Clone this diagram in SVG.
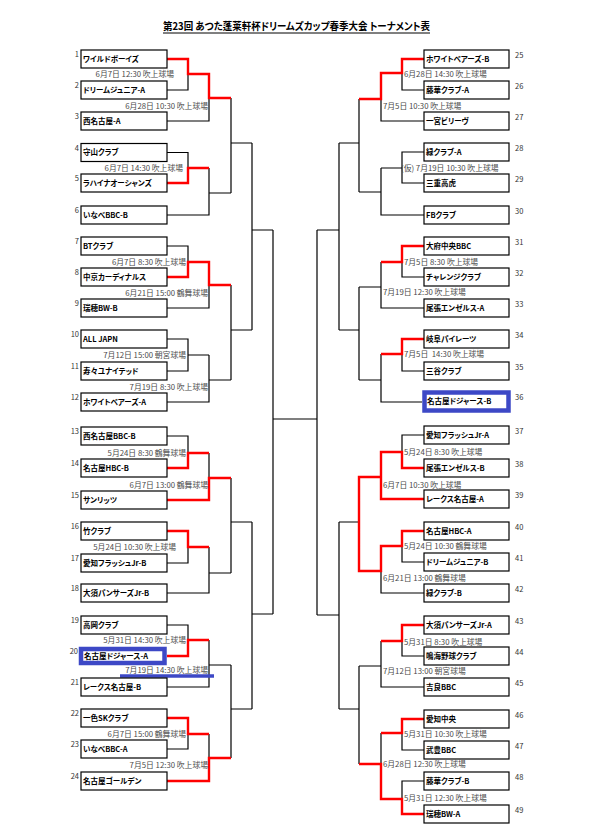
<svg xmlns="http://www.w3.org/2000/svg" width="592" height="835" viewBox="0 0 592 835">
<style>
text{font-family:"Noto Sans CJK JP","Noto Sans",sans-serif;font-feature-settings:"palt"}
.t{font-size:7.5px;font-weight:bold;fill:#000}
.n{font-size:7.5px;fill:#333}
.d{font-size:7.8px;fill:#4a4a4a;font-feature-settings:normal}
.de{font-size:7.8px;fill:#4a4a4a;text-anchor:end;font-feature-settings:normal}
.nl{font-size:7.5px;fill:#333;text-anchor:end}
.box{fill:#fff;stroke:#000;stroke-width:1.2}
.bl{fill:none;stroke:#000;stroke-width:1.2}
.rd{fill:none;stroke:#f00;stroke-width:2.4}
.blue{fill:none;stroke:#3d48c6;stroke-width:4.5}
</style>
<rect width="592" height="835" fill="#fff"/>
<text x="163" y="30" font-size="10.5" font-weight="bold" textLength="267" lengthAdjust="spacingAndGlyphs">第23回 あつた蓬莱軒杯ドリームズカップ春季大会 トーナメント表</text>
<line x1="163" y1="33" x2="430" y2="33" stroke="#000" stroke-width="1"/>

<g id="connectors">
<path class="bl" d="M167,90H188V74M167,121H209V98M231,98V193M167,152.5H188V168M209,168V215H167M209,193H231M231,143H252M167,246H188V262M167,308H209V285M231,285V380M167,339H188V371H167M188,355H209M209,355V402H167M209,380H231M231,330H252M252,143V330M252,230H273M167,436H188V453M209,453V478M231,478V573M167,563H188V547M209,547V593H167M209,573H231M231,522H252M252,522V709M252,614H273M167,625H188V640M209,640V687H167M209,665H231M231,665V758M167,749H188V734M209,734V758M231,709H252M273,230V614M273,419H317M317,230V615"/>
<path class="bl" d="M424,90H402V73M424,121H381V99M359,99V192M424,152H402V183H424M402,168H381M381,168V215H424M381,192H359M359,143H339M339,143V330M339,230H317M424,277H402V262M381,262V308H424M381,287H359M359,287V380M424,371H402V354M381,354V402H422M381,380H359M359,330H339M424,435H402V452M359,522H339M424,562H402V546M381,571V593H424M339,522V709M339,615H317M424,656H402V641M381,641V687H424M381,666H359M359,666V764M359,709H339M424,750H402V733M381,733V764M424,781H402V799"/>
<path class="rd" d="M167,59H188V74H209V98H231M167,183H188V168H209M167,277H188V262H209V285H231M167,468H188V453H209M167,500H209V478H231M167,531H188V547H209M167,656H188V640H209M167,718H188V734H209M167,781H209V758H231"/>
<path class="rd" d="M424,59H402V73H381V99H359M424,246H402V262H381M424,339H402V354H381M424,468H402V452H381V499H424M381,477H359V571H381V546H402V531H424M424,625H402V641H381M424,719H402V733H381M424,814H402V799H381V764H359"/>
<line x1="120" y1="676" x2="214" y2="676" stroke="#3d48c6" stroke-width="3.5"/>
</g>

<g id="labels">
<text class="de" x="174" y="77">6月7日 12:30 吹上球場</text>
<text class="de" x="208" y="109">6月28日 10:30 吹上球場</text>
<text class="de" x="183" y="171">6月7日 14:30 吹上球場</text>
<text class="de" x="186" y="265">6月7日 8:30 吹上球場</text>
<text class="de" x="208" y="296">6月21日 15:00 鶴舞球場</text>
<text class="de" x="186" y="358">7月12日 15:00 朝宮球場</text>
<text class="de" x="208" y="390">7月19日 8:30 吹上球場</text>
<text class="de" x="186" y="456">5月24日 8:30 鶴舞球場</text>
<text class="de" x="208" y="488">6月7日 13:00 鶴舞球場</text>
<text class="de" x="176" y="550">5月24日 10:30 吹上球場</text>
<text class="de" x="186" y="643">5月31日 14:30 吹上球場</text>
<text class="de" x="208" y="673">7月19日 14:30 吹上球場</text>
<text class="de" x="186" y="737">6月7日 15:00 鶴舞球場</text>
<text class="de" x="208" y="768">7月5日 12:30 吹上球場</text>
<text class="d" x="404" y="77">6月28日 14:30 吹上球場</text>
<text class="d" x="383" y="109">7月5日 10:30 吹上球場</text>
<text class="d" x="401" y="171">(仮) 7月19日 10:30 吹上球場</text>
<text class="d" x="404" y="265">7月5日 8:30 吹上球場</text>
<text class="d" x="383" y="295">7月19日 12:30 吹上球場</text>
<text class="d" x="404" y="357">7月5日&#160; 14:30 吹上球場</text>
<text class="d" x="404" y="455">5月24日 8:30 吹上球場</text>
<text class="d" x="383" y="488">6月7日 10:30 吹上球場</text>
<text class="d" x="404" y="549">5月24日 10:30 鶴舞球場</text>
<text class="d" x="383" y="581">6月21日 13:00 鶴舞球場</text>
<text class="d" x="404" y="645">5月31日 8:30 吹上球場</text>
<text class="d" x="383" y="674">7月12日 13:00 朝宮球場</text>
<text class="d" x="404" y="737">5月31日 10:30 吹上球場</text>
<text class="d" x="383" y="767">6月28日 12:30 吹上球場</text>
<text class="d" x="404" y="801">5月31日 12:30 吹上球場</text>
</g>

<g id="t1"><rect class="box" x="81" y="50" width="86" height="18"/><text class="t" x="83" y="61.8">ワイルドボーイズ</text><text class="nl" x="79" y="57">1</text></g>
<g id="t2"><rect class="box" x="81" y="81" width="86" height="18"/><text class="t" x="83" y="92.8">ドリームジュニア-A</text><text class="nl" x="79" y="88">2</text></g>
<g id="t3"><rect class="box" x="81" y="112" width="86" height="18"/><text class="t" x="83" y="123.8">西名古屋-A</text><text class="nl" x="79" y="119">3</text></g>
<g id="t4"><rect class="box" x="81" y="143.5" width="86" height="18"/><text class="t" x="83" y="155.3">守山クラブ</text><text class="nl" x="79" y="150.5">4</text></g>
<g id="t5"><rect class="box" x="81" y="174" width="86" height="18"/><text class="t" x="83" y="185.8">ラハイナオーシャンズ</text><text class="nl" x="79" y="181">5</text></g>
<g id="t6"><rect class="box" x="81" y="206" width="86" height="18"/><text class="t" x="83" y="217.8">いなべBBC-B</text><text class="nl" x="79" y="213">6</text></g>
<g id="t7"><rect class="box" x="81" y="237" width="86" height="18"/><text class="t" x="83" y="248.8">BTクラブ</text><text class="nl" x="79" y="244">7</text></g>
<g id="t8"><rect class="box" x="81" y="268" width="86" height="18"/><text class="t" x="83" y="279.8">中京カーディナルス</text><text class="nl" x="79" y="275">8</text></g>
<g id="t9"><rect class="box" x="81" y="299" width="86" height="18"/><text class="t" x="83" y="310.8">瑞穂BW-B</text><text class="nl" x="79" y="306">9</text></g>
<g id="t10"><rect class="box" x="81" y="330" width="86" height="18"/><text class="t" x="83" y="341.8">ALL JAPN</text><text class="nl" x="79" y="337">10</text></g>
<g id="t11"><rect class="box" x="81" y="362" width="86" height="18"/><text class="t" x="83" y="373.8">寿々ユナイテッド</text><text class="nl" x="79" y="369">11</text></g>
<g id="t12"><rect class="box" x="81" y="393" width="86" height="18"/><text class="t" x="83" y="404.8">ホワイトベアーズ-A</text><text class="nl" x="79" y="400">12</text></g>
<g id="t13"><rect class="box" x="81" y="427" width="86" height="18"/><text class="t" x="83" y="438.8">西名古屋BBC-B</text><text class="nl" x="79" y="434">13</text></g>
<g id="t14"><rect class="box" x="81" y="459" width="86" height="18"/><text class="t" x="83" y="470.8">名古屋HBC-B</text><text class="nl" x="79" y="466">14</text></g>
<g id="t15"><rect class="box" x="81" y="491" width="86" height="18"/><text class="t" x="83" y="502.8">サンリッツ</text><text class="nl" x="79" y="498">15</text></g>
<g id="t16"><rect class="box" x="81" y="522" width="86" height="18"/><text class="t" x="83" y="533.8">竹クラブ</text><text class="nl" x="79" y="529">16</text></g>
<g id="t17"><rect class="box" x="81" y="554" width="86" height="18"/><text class="t" x="83" y="565.8">愛知フラッシュJr-B</text><text class="nl" x="79" y="561">17</text></g>
<g id="t18"><rect class="box" x="81" y="584" width="86" height="18"/><text class="t" x="83" y="595.8">大須パンサーズJr-B</text><text class="nl" x="79" y="591">18</text></g>
<g id="t19"><rect class="box" x="81" y="616" width="86" height="18"/><text class="t" x="83" y="627.8">高岡クラブ</text><text class="nl" x="79" y="623">19</text></g>
<g id="t20"><rect class="blue" x="81" y="649" width="83.5" height="14"/><text class="t" x="84" y="658.8">名古屋ドジャース-A</text><text class="nl" x="78" y="654">20</text></g>
<g id="t21"><rect class="box" x="81" y="678" width="86" height="18"/><text class="t" x="83" y="689.8">レークス名古屋-B</text><text class="nl" x="79" y="685">21</text></g>
<g id="t22"><rect class="box" x="81" y="709" width="86" height="18"/><text class="t" x="83" y="720.8">一色SKクラブ</text><text class="nl" x="79" y="716">22</text></g>
<g id="t23"><rect class="box" x="81" y="740" width="86" height="18"/><text class="t" x="83" y="751.8">いなべBBC-A</text><text class="nl" x="79" y="747">23</text></g>
<g id="t24"><rect class="box" x="81" y="772" width="86" height="18"/><text class="t" x="83" y="783.8">名古屋ゴールデン</text><text class="nl" x="79" y="779">24</text></g>

<g id="t25"><rect class="box" x="424" y="50" width="85" height="18"/><text class="t" x="426" y="61.8">ホワイトベアーズ-B</text><text class="n" x="515" y="58">25</text></g>
<g id="t26"><rect class="box" x="424" y="81" width="85" height="18"/><text class="t" x="426" y="92.8">藤華クラブ-A</text><text class="n" x="515" y="89">26</text></g>
<g id="t27"><rect class="box" x="424" y="112" width="85" height="18"/><text class="t" x="426" y="123.8">一宮ビリーヴ</text><text class="n" x="515" y="120">27</text></g>
<g id="t28"><rect class="box" x="424" y="143" width="85" height="18"/><text class="t" x="426" y="154.8">緑クラブ-A</text><text class="n" x="515" y="151">28</text></g>
<g id="t29"><rect class="box" x="424" y="174" width="85" height="18"/><text class="t" x="426" y="185.8">三重高虎</text><text class="n" x="515" y="182">29</text></g>
<g id="t30"><rect class="box" x="424" y="206" width="85" height="18"/><text class="t" x="426" y="217.8">FBクラブ</text><text class="n" x="515" y="214">30</text></g>
<g id="t31"><rect class="box" x="424" y="237" width="85" height="18"/><text class="t" x="426" y="248.8">大府中央BBC</text><text class="n" x="515" y="245">31</text></g>
<g id="t32"><rect class="box" x="424" y="268" width="85" height="18"/><text class="t" x="426" y="279.8">チャレンジクラブ</text><text class="n" x="515" y="276">32</text></g>
<g id="t33"><rect class="box" x="424" y="299" width="85" height="18"/><text class="t" x="426" y="310.8">尾張エンゼルス-A</text><text class="n" x="515" y="307">33</text></g>
<g id="t34"><rect class="box" x="424" y="330" width="85" height="18"/><text class="t" x="426" y="341.8">岐阜パイレーツ</text><text class="n" x="515" y="338">34</text></g>
<g id="t35"><rect class="box" x="424" y="362" width="85" height="18"/><text class="t" x="426" y="373.8">三谷クラブ</text><text class="n" x="515" y="370">35</text></g>
<g id="t36"><rect class="blue" x="424.5" y="392.5" width="84" height="18"/><text class="t" x="427" y="404.3">名古屋ドジャース-B</text><text class="n" x="515" y="400">36</text></g>
<g id="t37"><rect class="box" x="424" y="426" width="85" height="18"/><text class="t" x="426" y="437.8">愛知フラッシュJr-A</text><text class="n" x="515" y="434">37</text></g>
<g id="t38"><rect class="box" x="424" y="459" width="85" height="18"/><text class="t" x="426" y="470.8">尾張エンゼルス-B</text><text class="n" x="515" y="467">38</text></g>
<g id="t39"><rect class="box" x="424" y="490" width="85" height="18"/><text class="t" x="426" y="501.8">レークス名古屋-A</text><text class="n" x="515" y="498">39</text></g>
<g id="t40"><rect class="box" x="424" y="522" width="85" height="18"/><text class="t" x="426" y="533.8">名古屋HBC-A</text><text class="n" x="515" y="530">40</text></g>
<g id="t41"><rect class="box" x="424" y="553" width="85" height="18"/><text class="t" x="426" y="564.8">ドリームジュニア-B</text><text class="n" x="515" y="561">41</text></g>
<g id="t42"><rect class="box" x="424" y="584" width="85" height="18"/><text class="t" x="426" y="595.8">緑クラブ-B</text><text class="n" x="515" y="592">42</text></g>
<g id="t43"><rect class="box" x="424" y="616" width="85" height="18"/><text class="t" x="426" y="627.8">大須パンサーズJr-A</text><text class="n" x="515" y="624">43</text></g>
<g id="t44"><rect class="box" x="424" y="647" width="85" height="18"/><text class="t" x="426" y="658.8">鳴海野球クラブ</text><text class="n" x="515" y="655">44</text></g>
<g id="t45"><rect class="box" x="424" y="678" width="85" height="18"/><text class="t" x="426" y="689.8">吉良BBC</text><text class="n" x="515" y="686">45</text></g>
<g id="t46"><rect class="box" x="424" y="710" width="85" height="18"/><text class="t" x="426" y="721.8">愛知中央</text><text class="n" x="515" y="718">46</text></g>
<g id="t47"><rect class="box" x="424" y="741" width="85" height="18"/><text class="t" x="426" y="752.8">武豊BBC</text><text class="n" x="515" y="749">47</text></g>
<g id="t48"><rect class="box" x="424" y="772" width="85" height="18"/><text class="t" x="426" y="783.8">藤華クラブ-B</text><text class="n" x="515" y="780">48</text></g>
<g id="t49"><rect class="box" x="424" y="805" width="85" height="18"/><text class="t" x="426" y="816.8">瑞穂BW-A</text><text class="n" x="515" y="813">49</text></g>
</svg>
